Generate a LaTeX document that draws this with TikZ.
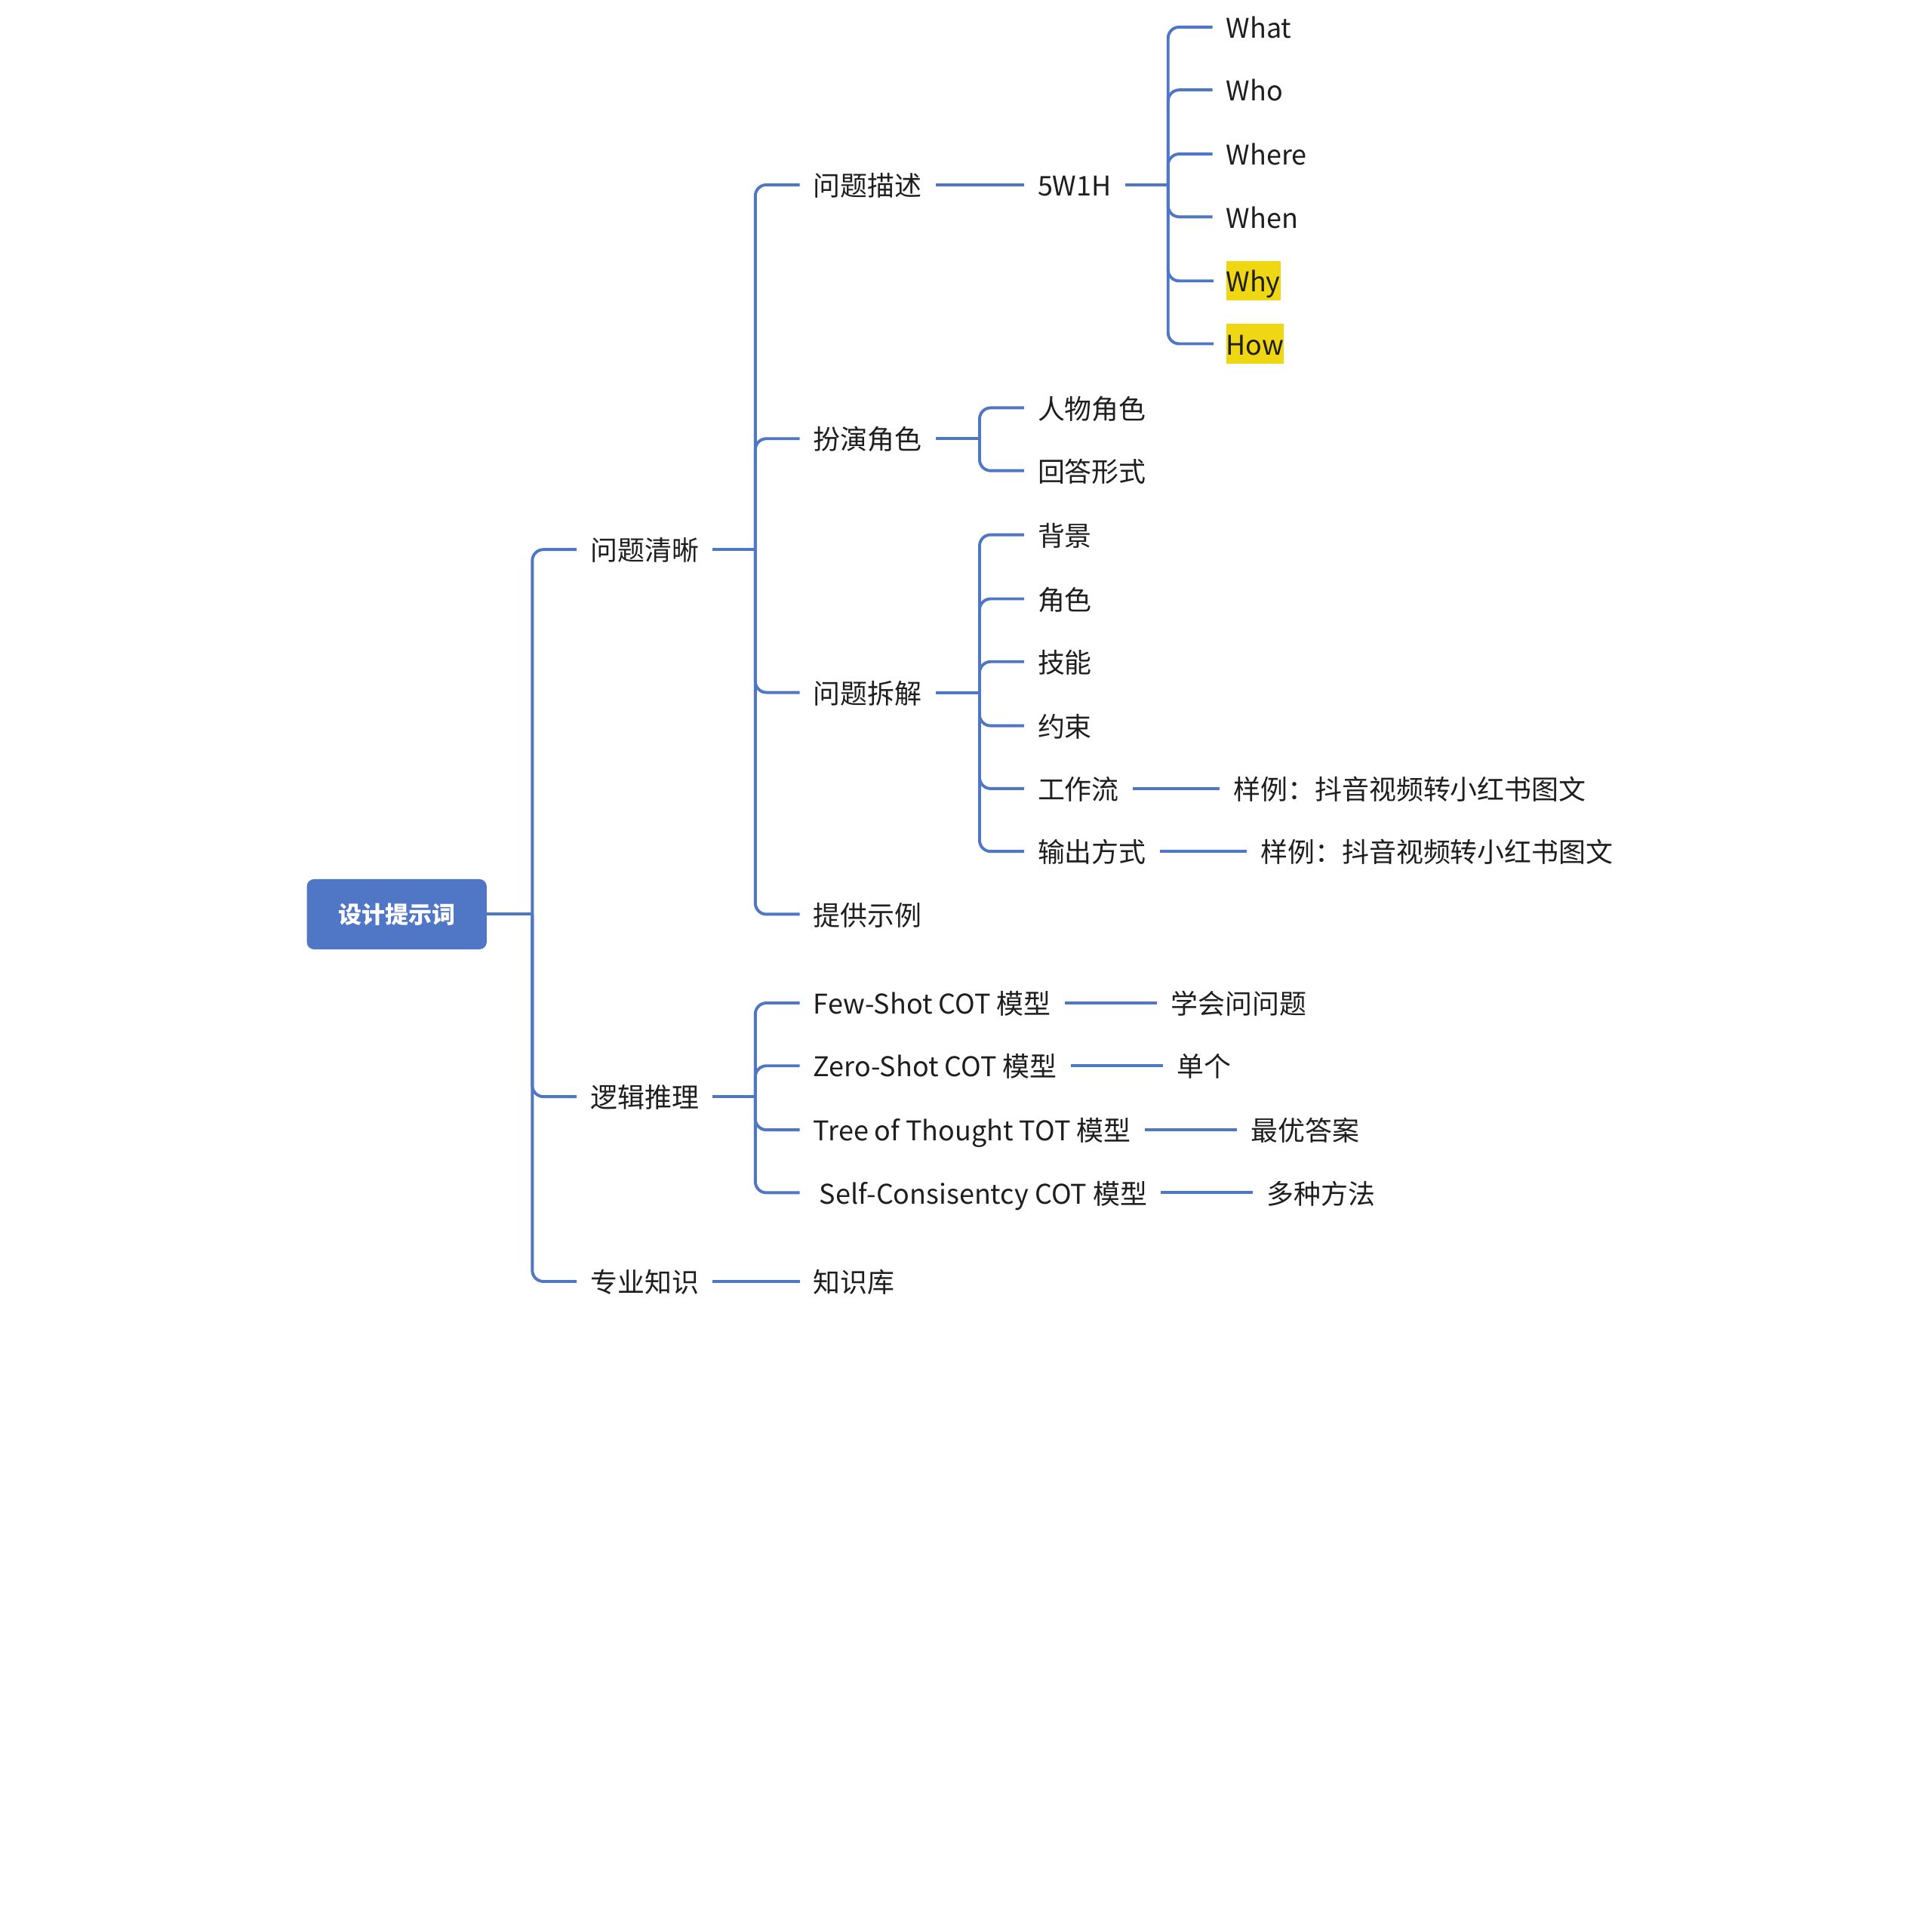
\documentclass[tikz,border=0pt]{standalone}
\usepackage{fontspec}
\setmainfont{Noto Sans CJK SC}
\definecolor{branch}{RGB}{79,119,198}
\definecolor{ink}{RGB}{30,30,30}
\definecolor{marker}{RGB}{240,215,20}
\begin{document}
\begin{tikzpicture}[x=1pt,y=-1pt,
  topic/.style={anchor=west,inner xsep=11pt,inner ysep=0pt,text height=25pt,text depth=7pt,
    text=ink,font=\fontsize{22}{26}\selectfont},
  marked/.style={topic,fill=marker,inner xsep=0pt,outer xsep=10pt},
  rootbox/.style={fill=branch,rounded corners=6pt,minimum width=146pt,minimum height=57pt,
    inner sep=0pt,text=white,font=\fontsize{19}{22}\selectfont\bfseries},
  link/.style={draw=branch,line width=2.4pt,rounded corners=9pt}]
  \useasboundingbox (0,0) rectangle (1568,1568);

  % root and first level
  \node[rootbox] (root) at (322,742) {设计提示词};
  \node[topic] (clear) at (468,446) {问题清晰};
  \node[topic] (logic) at (468,890) {逻辑推理};
  \node[topic] (know) at (468,1040) {专业知识};

  % 问题清晰
  \node[topic] (desc) at (649,150) {问题描述};
  \node[topic] (role) at (649,356) {扮演角色};
  \node[topic] (split) at (649,562) {问题拆解};
  \node[topic] (demo) at (649,742) {提供示例};

  \node[topic] (fivew) at (831,150) {5W1H};
  \node[topic] (what) at (984,22) {What};
  \node[topic] (who) at (984,73) {Who};
  \node[topic] (where) at (984,125) {Where};
  \node[topic] (when) at (984,176) {When};
  \node[marked] (why) at (985,228) {Why};
  \node[marked] (how) at (985,279) {How};

  \node[topic] (person) at (831,331) {人物角色};
  \node[topic] (answer) at (831,382) {回答形式};

  \node[topic] (bg) at (831,434) {背景};
  \node[topic] (part) at (831,486) {角色};
  \node[topic] (skill) at (831,537) {技能};
  \node[topic] (limit) at (831,589) {约束};
  \node[topic] (flow) at (831,640) {工作流};
  \node[topic] (out) at (831,691) {输出方式};
  \node[topic] (flowex) at (990,640) {样例：抖音视频转小红书图文};
  \node[topic] (outex) at (1012,691) {样例：抖音视频转小红书图文};

  % 逻辑推理
  \node[topic] (few) at (649,814) {Few-Shot COT 模型};
  \node[topic] (zero) at (649,865) {Zero-Shot COT 模型};
  \node[topic] (tree) at (649,917) {Tree of Thought TOT 模型};
  \node[topic] (self) at (649,968) {\ Self-Consisentcy COT 模型};
  \node[topic] (ask) at (939,814) {学会问问题};
  \node[topic] (single) at (944,865) {单个};
  \node[topic] (best) at (1004,917) {最优答案};
  \node[topic] (many) at (1017,968) {多种方法};

  % 专业知识
  \node[topic] (base) at (649,1040) {知识库};

  % forks
  \coordinate (rootfork) at (432,742);
  \coordinate (clearfork) at (613,446);
  \coordinate (wfork) at (948,150);
  \coordinate (rolefork) at (795,356);
  \coordinate (splitfork) at (795,562);
  \coordinate (logicfork) at (613,890);

  \draw[link] (root.east) -- (rootfork);
  \draw[link] (rootfork) |- (clear.west);
  \draw[link] (rootfork) |- (logic.west);
  \draw[link] (rootfork) |- (know.west);

  \draw[link] (clear.east) -- (clearfork);
  \draw[link] (clearfork) |- (desc.west);
  \draw[link] (clearfork) |- (role.west);
  \draw[link] (clearfork) |- (split.west);
  \draw[link] (clearfork) |- (demo.west);

  \draw[link] (desc.east) -- (fivew.west);
  \draw[link] (fivew.east) -- (wfork);
  \draw[link] (wfork) |- (what.west);
  \draw[link] (wfork) |- (who.west);
  \draw[link] (wfork) |- (where.west);
  \draw[link] (wfork) |- (when.west);
  \draw[link] (wfork) |- (why.west);
  \draw[link] (wfork) |- (how.west);

  \draw[link] (role.east) -- (rolefork);
  \draw[link] (rolefork) |- (person.west);
  \draw[link] (rolefork) |- (answer.west);

  \draw[link] (split.east) -- (splitfork);
  \draw[link] (splitfork) |- (bg.west);
  \draw[link] (splitfork) |- (part.west);
  \draw[link] (splitfork) |- (skill.west);
  \draw[link] (splitfork) |- (limit.west);
  \draw[link] (splitfork) |- (flow.west);
  \draw[link] (splitfork) |- (out.west);
  \draw[link] (flow.east) -- (flowex.west);
  \draw[link] (out.east) -- (outex.west);

  \draw[link] (logic.east) -- (logicfork);
  \draw[link] (logicfork) |- (few.west);
  \draw[link] (logicfork) |- (zero.west);
  \draw[link] (logicfork) |- (tree.west);
  \draw[link] (logicfork) |- (self.west);
  \draw[link] (few.east) -- (ask.west);
  \draw[link] (zero.east) -- (single.west);
  \draw[link] (tree.east) -- (best.west);
  \draw[link] (self.east) -- (many.west);

  \draw[link] (know.east) -- (base.west);
\end{tikzpicture}
\end{document}
